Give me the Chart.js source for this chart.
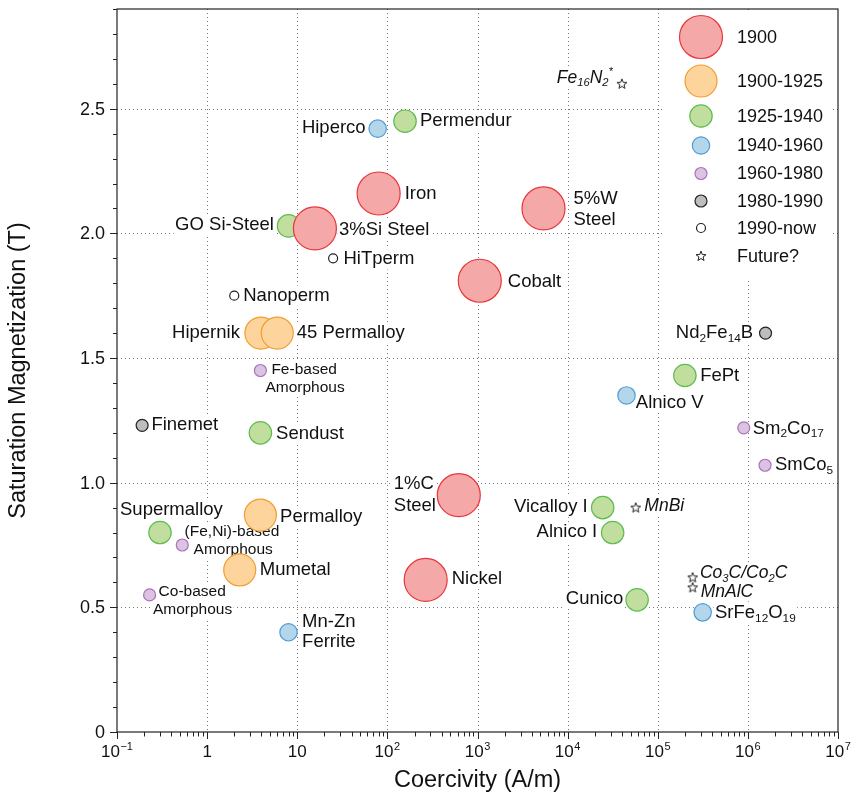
<!DOCTYPE html>
<html>
<head>
<meta charset="utf-8">
<title>Soft and hard magnetic materials</title>
<script src="https://cdn.jsdelivr.net/npm/chart.js@4.4.0/dist/chart.umd.min.js"></script>
<style>
  html, body { margin: 0; padding: 0; background: #fff; }
  canvas { display: block; }
</style>
</head>
<body>
<canvas id="chart" width="855" height="798"></canvas>
<script>
// ---- data ----
const eras = ['1900', '1900-1925', '1925-1940', '1940-1960', '1960-1980', '1980-1990', '1990-now', 'Future?'];

const materials = [
  'Iron', '3%Si Steel', 'Cobalt', '5%W\nSteel', '1%C\nSteel', 'Nickel',
  'Hipernik', '45 Permalloy', 'Permalloy', 'Mumetal',
  'Permendur', 'GO Si-Steel', 'Sendust', 'Supermalloy', 'Vicalloy I', 'Alnico I', 'Cunico', 'FePt',
  'Hiperco', 'Alnico V', 'Mn-Zn\nFerrite', 'SrFe_{12}O_{19}',
  'Fe-based\nAmorphous', '(Fe,Ni)-based\nAmorphous', 'Co-based\nAmorphous', 'Sm_{2}Co_{17}', 'SmCo_{5}',
  'Nd_{2}Fe_{14}B', 'Finemet',
  'HiTperm', 'Nanoperm',
  'Fe_{16}N_{2}^{*}', 'MnBi', 'Co_{3}C/Co_{2}C', 'MnAlC'
];

// coercivity in A/m
const coercivity = [
  80, 15.7, 1060, 5400, 620, 266,
  3.95, 6.0, 3.9, 2.3,
  157, 8.0, 3.9, 0.30, 24500, 31600, 59000, 200000,
  78, 45000, 8.0, 315000,
  3.9, 0.53, 0.23, 900000, 1550000,
  1570000, 0.19,
  25, 2.0,
  40000, 57000, 244000, 244000
];

// saturation magnetization in T
const saturation = [
  2.16, 2.02, 1.81, 2.10, 0.95, 0.61,
  1.60, 1.60, 0.87, 0.65,
  2.45, 2.03, 1.20, 0.80, 0.90, 0.80, 0.53, 1.43,
  2.42, 1.35, 0.40, 0.48,
  1.45, 0.75, 0.55, 1.22, 1.07,
  1.60, 1.23,
  1.90, 1.75,
  2.60, 0.90, 0.62, 0.58
];

// index into eras
const eraOf = [
  0, 0, 0, 0, 0, 0,
  1, 1, 1, 1,
  2, 2, 2, 2, 2, 2, 2, 2,
  3, 3, 3, 3,
  4, 4, 4, 4, 4,
  5, 5,
  6, 6,
  7, 7, 7, 7
];

const yTickLabels = ['0', '0.5', '1.0', '1.5', '2.0', '2.5'];
const yTickValues = [0, 0.5, 1.0, 1.5, 2.0, 2.5];
const xDecades = [-1, 0, 1, 2, 3, 4, 5, 6, 7];

// ---- styling ----
const FONT = '"Liberation Sans", Arial, Helvetica, sans-serif';
const font = (size, italic) => (italic ? 'italic ' : '') + size + 'px ' + FONT;

const eraStyle = [
  { fill: '#f5a8a8', stroke: '#e8363b', r: 21.5 },
  { fill: '#fdd49c', stroke: '#f39d2f', r: 16 },
  { fill: '#c1de9e', stroke: '#5cbc4e', r: 11.2 },
  { fill: '#b4d6eb', stroke: '#4f9cd4', r: 8.7 },
  { fill: '#dcc3e2', stroke: '#ab72bc', r: 6 },
  { fill: '#bdbdbd', stroke: '#222222', r: 6 },
  { fill: '#ffffff', stroke: '#222222', r: 4.5 },
  { fill: '#ffffff', stroke: '#222222', r: 5 }
];

// five-pointed outline star used as point style
function makeStar() {
  const c = document.createElement('canvas');
  c.width = 14; c.height = 14;
  const g = c.getContext('2d');
  g.beginPath();
  for (let k = 0; k < 10; k++) {
    const rr = k % 2 === 0 ? 5.2 : 2.2;
    const a = -Math.PI / 2 + k * Math.PI / 5;
    const px = 7 + rr * Math.cos(a), py = 7.3 + rr * Math.sin(a);
    k === 0 ? g.moveTo(px, py) : g.lineTo(px, py);
  }
  g.closePath();
  g.fillStyle = '#fff';
  g.fill();
  g.lineWidth = 1;
  g.strokeStyle = '#222';
  g.stroke();
  return c;
}
const starImg = makeStar();

// label placement relative to each marker: [dx, dy, align, dx of next lines, line height, kind]
// kind: 0 regular, 1 small, 2 italic
const labelLayout = [
  [26, 0, 'left', null, 21, 0],
  [24, 2, 'left', null, 21, 0],
  [28, 1, 'left', null, 21, 0],
  [30, -9.5, 'left', null, 21, 0],
  [-65, -11, 'left', null, 21.5, 0],
  [26, -1, 'left', null, 21, 0],
  [-21, 0, 'right', null, 21, 0],
  [19.5, 0, 'left', null, 21, 0],
  [19.7, 1.7, 'left', null, 21, 0],
  [20, 0, 'left', null, 21, 0],
  [15, 0, 'left', null, 21, 0],
  [-14.7, -1.3, 'right', null, 21, 0],
  [15.7, 0.6, 'left', null, 21, 0],
  [-40, -22.3, 'left', null, 21, 0],
  [-15, -0.6, 'right', null, 21, 0],
  [-15.4, -0.4, 'right', null, 21, 0],
  [-13.7, -1.4, 'right', null, 21, 0],
  [15.3, 0, 'left', null, 21, 0],
  [-12, -0.7, 'right', null, 21, 0],
  [9.3, 7.4, 'left', null, 21, 0],
  [13.6, -10.6, 'left', null, 20.6, 0],
  [12.3, 0.4, 'left', null, 21, 0],
  [11, -1, 'left', 5, 18, 1],
  [2.3, -13.3, 'left', 11.3, 17.6, 1],
  [9, -3.4, 'left', 3.3, 18, 1],
  [9, 0.6, 'left', null, 21, 0],
  [10, 0, 'left', null, 21, 0],
  [-12.4, 0, 'right', null, 21, 0],
  [9.3, 0, 'left', null, 21, 0],
  [10.3, 1, 'left', null, 21, 0],
  [9, 0, 'left', null, 21, 0],
  [-9, -6, 'right', null, 21, 2],
  [8.6, -1, 'left', null, 21, 2],
  [7.3, -4, 'left', null, 21, 2],
  [8, 4.4, 'left', null, 21, 2]
];
const kindSize = [18.5, 15.5, 17.5];

// ---- rich text (sub/superscripts) ----
function parseRich(str) {
  const segs = [];
  const re = /(_|\^)\{([^}]*)\}/g;
  let last = 0, m;
  while ((m = re.exec(str))) {
    if (m.index > last) segs.push({ t: str.slice(last, m.index), k: 0 });
    segs.push({ t: m[2], k: m[1] === '_' ? 1 : 2 });
    last = re.lastIndex;
  }
  if (last < str.length) segs.push({ t: str.slice(last), k: 0 });
  return segs;
}
function richWidth(ctx, segs, size, italic) {
  let w = 0;
  for (const s of segs) {
    ctx.font = font(s.k ? size * 0.64 : size, italic);
    w += ctx.measureText(s.t).width;
  }
  return w;
}
function drawRich(ctx, segs, x, y, size, italic) {
  ctx.textAlign = 'left';
  ctx.textBaseline = 'middle';
  for (const s of segs) {
    const sz = s.k ? size * 0.64 : size;
    ctx.font = font(sz, italic);
    const off = s.k === 1 ? size * 0.3 : (s.k === 2 ? -size * 0.36 : 0);
    ctx.fillText(s.t, x, y + off);
    x += ctx.measureText(s.t).width;
  }
}

// ---- datasets, one per era ----
const datasets = eras.map((era, e) => {
  const st = eraStyle[e];
  const pts = [];
  materials.forEach((m, i) => {
    if (eraOf[i] === e) pts.push({ x: coercivity[i], y: saturation[i] });
  });
  return {
    label: era,
    data: pts,
    backgroundColor: st.fill,
    borderColor: st.stroke,
    borderWidth: 1.2,
    pointRadius: st.r,
    pointStyle: e === 7 ? starImg : 'circle'
  };
});

// ---- grid, point labels and legend (under the markers) ----
const underlay = {
  id: 'underlay',
  beforeDatasetsDraw(chart) {
    const ctx = chart.ctx;
    const xs = chart.scales.x, ys = chart.scales.y;
    const a = chart.chartArea;
    ctx.save();
    // dotted grid
    ctx.strokeStyle = '#777';
    ctx.lineWidth = 1;
    ctx.setLineDash([1, 3]);
    xDecades.slice(1, -1).forEach(d => {
      const px = Math.round(xs.getPixelForValue(Math.pow(10, d))) + 0.5;
      ctx.beginPath(); ctx.moveTo(px, a.top); ctx.lineTo(px, a.bottom); ctx.stroke();
    });
    yTickValues.slice(1).forEach(v => {
      const py = Math.round(ys.getPixelForValue(v)) + 0.5;
      ctx.beginPath(); ctx.moveTo(a.left, py); ctx.lineTo(a.right, py); ctx.stroke();
    });
    ctx.setLineDash([]);

    // point labels with white backing
    const items = [];
    materials.forEach((name, i) => {
      const [dx, dy, align, dx2, lh, kind] = labelLayout[i];
      const size = kindSize[kind];
      const italic = kind === 2;
      const px = xs.getPixelForValue(coercivity[i]);
      const py = ys.getPixelForValue(saturation[i]);
      name.split('\n').forEach((line, j) => {
        const segs = parseRich(line);
        const w = richWidth(ctx, segs, size, italic);
        const ox = (j > 0 && dx2 !== null) ? dx2 : dx;
        let x = px + ox;
        if (align === 'right') x -= w;
        const y = py + dy + j * lh;
        items.push({ segs, x, y, w, size, italic });
      });
    });
    ctx.fillStyle = '#fff';
    items.forEach(it => ctx.fillRect(it.x - 1.5, it.y - it.size * 0.55, it.w + 3, it.size * 1.1));
    ctx.fillStyle = '#111';
    items.forEach(it => drawRich(ctx, it.segs, it.x, it.y, it.size, it.italic));

    // legend
    ctx.fillStyle = '#fff';
    ctx.fillRect(663, a.top + 1, 167, 268);
    const rowY = [37, 81, 116, 145.5, 173.5, 201, 228, 256];
    eras.forEach((era, e) => {
      const st = eraStyle[e];
      const cx = 701, cy = rowY[e];
      if (e === 7) {
        ctx.drawImage(starImg, cx - starImg.width / 2, cy - starImg.height / 2);
      } else {
        ctx.beginPath();
        ctx.arc(cx, cy, st.r, 0, Math.PI * 2);
        ctx.fillStyle = st.fill; ctx.fill();
        ctx.lineWidth = 1.2; ctx.strokeStyle = st.stroke; ctx.stroke();
      }
      ctx.fillStyle = '#111';
      ctx.font = font(18);
      ctx.textAlign = 'left';
      ctx.textBaseline = 'middle';
      ctx.fillText(era, 737, cy + 1);
    });
    ctx.restore();
  },

  // frame, ticks, tick labels and axis titles
  afterDraw(chart) {
    const ctx = chart.ctx;
    const xs = chart.scales.x, ys = chart.scales.y;
    const a = chart.chartArea;
    ctx.save();
    ctx.strokeStyle = '#222';
    ctx.lineWidth = 1.2;
    ctx.strokeRect(a.left, a.top, a.right - a.left, a.bottom - a.top);

    // y ticks every 0.1
    ctx.lineWidth = 1;
    for (let k = 0; k <= 29; k++) {
      const py = Math.round(ys.getPixelForValue(k / 10)) + 0.5;
      const len = k % 5 === 0 ? 7 : 4;
      ctx.beginPath(); ctx.moveTo(a.left - len, py); ctx.lineTo(a.left, py); ctx.stroke();
    }
    // x ticks: decades and 2..9 within each
    xDecades.forEach(d => {
      const px = Math.round(xs.getPixelForValue(Math.pow(10, d))) + 0.5;
      ctx.beginPath(); ctx.moveTo(px, a.bottom); ctx.lineTo(px, a.bottom + 7); ctx.stroke();
      if (d < 7) {
        for (let m = 2; m <= 9; m++) {
          const qx = Math.round(xs.getPixelForValue(m * Math.pow(10, d))) + 0.5;
          ctx.beginPath(); ctx.moveTo(qx, a.bottom); ctx.lineTo(qx, a.bottom + 4.5); ctx.stroke();
        }
      }
    });

    ctx.fillStyle = '#111';
    // y tick labels
    ctx.font = font(18);
    ctx.textAlign = 'right';
    ctx.textBaseline = 'middle';
    yTickValues.forEach((v, k) => {
      ctx.fillText(yTickLabels[k], 105, ys.getPixelForValue(v) + 1);
    });
    // x tick labels as powers of ten
    xDecades.forEach(d => {
      const px = xs.getPixelForValue(Math.pow(10, d));
      let base, exp = '';
      if (d === 0) base = '1';
      else if (d === 1) base = '10';
      else { base = '10'; exp = d < 0 ? '\u2212' + (-d) : String(d); }
      ctx.font = font(17);
      const wb = ctx.measureText(base).width;
      ctx.font = font(11);
      const we = exp ? ctx.measureText(exp).width + 0.5 : 0;
      const left = px - (wb + we) / 2;
      ctx.textAlign = 'left';
      ctx.textBaseline = 'middle';
      ctx.font = font(17);
      ctx.fillText(base, left, a.bottom + 20);
      if (exp) {
        ctx.font = font(11);
        ctx.fillText(exp, left + wb + 0.5, a.bottom + 15);
      }
    });

    // axis titles
    ctx.font = font(23.5);
    ctx.textAlign = 'center';
    ctx.textBaseline = 'middle';
    ctx.fillText('Coercivity (A/m)', (a.left + a.right) / 2, 781);
    ctx.translate(19, (a.top + a.bottom) / 2);
    ctx.rotate(-Math.PI / 2);
    ctx.fillText('Saturation Magnetization (T)', 0, 0);
    ctx.restore();
  }
};

new Chart(document.getElementById('chart'), {
  type: 'scatter',
  data: { datasets },
  options: {
    responsive: false,
    devicePixelRatio: 1,
    animation: false,
    events: [],
    layout: { autoPadding: false, padding: { left: 117, right: 17, top: 9, bottom: 66 } },
    plugins: { legend: { display: false }, tooltip: { enabled: false } },
    scales: {
      x: { type: 'logarithmic', min: 0.1, max: 1e7, display: false },
      y: { type: 'linear', min: 0, max: 2.9, display: false }
    }
  },
  plugins: [underlay]
});
</script>
</body>
</html>
